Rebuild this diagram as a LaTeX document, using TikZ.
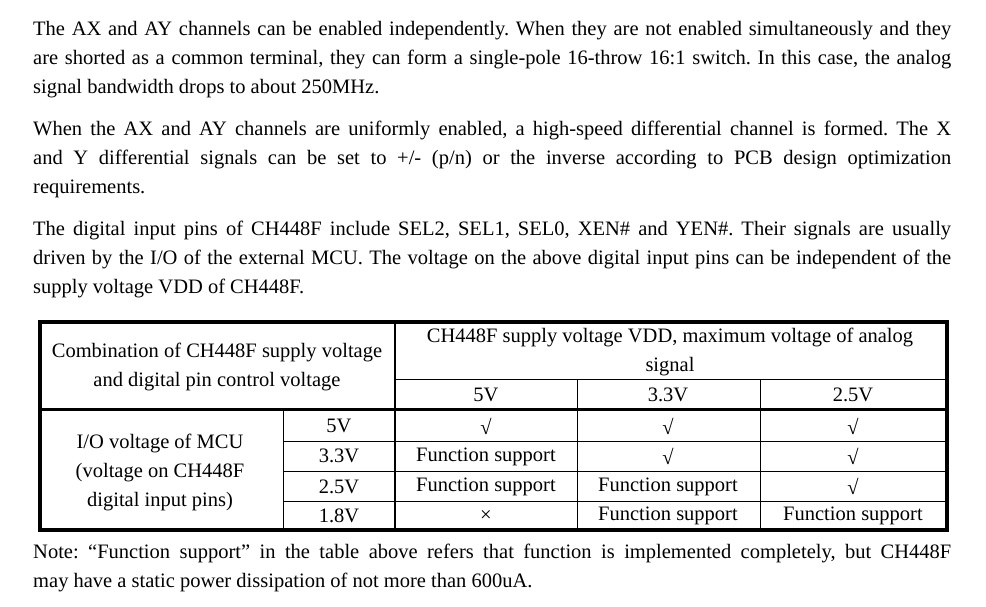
\documentclass[tikz,border=0pt]{standalone}
\usepackage{fontspec}
\setmainfont{Liberation Serif}
\begin{document}
\frenchspacing
\begin{tikzpicture}[x=1pt,y=-1pt,
  para/.style={anchor=north west,inner sep=0pt,text width=918pt,align=justify,font=\fontsize{20.5}{29}\selectfont\frenchspacing},
  cell/.style={inner sep=0pt,font=\fontsize{20.5}{29}\selectfont,align=center},
  thin/.style={line width=1pt},
  thick/.style={line width=3pt},
  outer/.style={line width=3.5pt}]
\useasboundingbox (0,0) rectangle (986,606);
\node[para] (p1) at (33,21) {The AX and AY channels can be enabled independently. When they are not enabled simultaneously and they\linebreak are shorted as a common terminal, they can form a single-pole 16-throw 16:1 switch. In this case, the analog\linebreak signal bandwidth drops to about 250MHz.};
\node[para] (p2) at (33,121) {When the AX and AY channels are uniformly enabled, a high-speed differential channel is formed. The X\linebreak and Y differential signals can be set to +/- (p/n) or the inverse according to PCB design optimization\linebreak requirements.};
\node[para] (p3) at (33,221) {The digital input pins of CH448F include SEL2, SEL1, SEL0, XEN\# and YEN\#. Their signals are usually\linebreak driven by the I/O of the external MCU. The voltage on the above digital input pins can be independent of the\linebreak supply voltage VDD of CH448F.};
\node[para] (p4) at (33,544) {Note: “Function support” in the table above refers that function is implemented completely, but CH448F\linebreak may have a static power dissipation of not more than 600uA.};
% table lines
\draw[thin] (395,379) -- (947,379);
\draw[thin] (283,441) -- (947,441);
\draw[thin] (283,471) -- (947,471);
\draw[thin] (283,501) -- (947,501);
\draw[thin] (283,409) -- (283,530);
\draw[thin] (577,379) -- (577,530);
\draw[thin] (760,379) -- (760,530);
\draw[line width=2pt] (395,322) -- (395,530);
\draw[thick] (40,409) -- (947,409);
\draw[outer] (40,322) rectangle (947,530);
% cells
\node[cell] (h1) at (217,367) {Combination of CH448F supply voltage\\and digital pin control voltage};
\node[cell] (h2) at (670,352) {CH448F supply voltage VDD, maximum voltage of analog\\signal};
\node[cell] (c5) at (486,395) {5V};
\node[cell] (c33) at (668,395) {3.3V};
\node[cell] (c25) at (853,395) {2.5V};
\node[cell] (io) at (160,472) {I/O voltage of MCU\\(voltage on CH448F\\digital input pins)};
\node[cell] (r1) at (339,426) {5V};
\node[cell] (r2) at (339,456) {3.3V};
\node[cell] (r3) at (339,487) {2.5V};
\node[cell] (r4) at (339,516) {1.8V};
\node[cell] (a1) at (486,426) {√};
\node[cell] (b1) at (668,426) {√};
\node[cell] (d1) at (853,426) {√};
\node[cell] (a2) at (486,457) {Function support};
\node[cell] (b2) at (668,456) {√};
\node[cell] (d2) at (853,456) {√};
\node[cell] (a3) at (486,487) {Function support};
\node[cell] (b3) at (668,487) {Function support};
\node[cell] (d3) at (853,486) {√};
\node[cell] (a4) at (486,516) {×};
\node[cell] (b4) at (668,516) {Function support};
\node[cell] (d4) at (853,516) {Function support};
\end{tikzpicture}
\end{document}
